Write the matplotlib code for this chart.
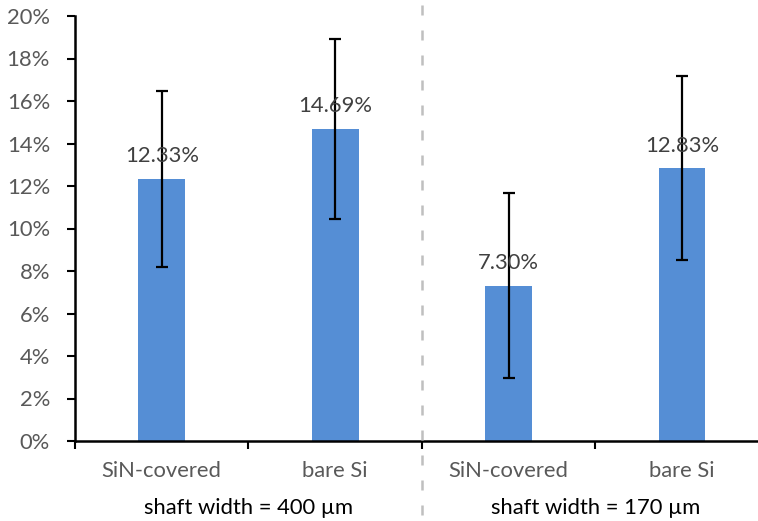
import matplotlib
matplotlib.use("Agg")
import matplotlib.pyplot as plt
from matplotlib.lines import Line2D
from matplotlib.transforms import blended_transform_factory
from matplotlib.ticker import FuncFormatter

# Data
categories = ["SiN-covered", "bare Si", "SiN-covered", "bare Si"]
groups = ["shaft width = 400 µm", "shaft width = 170 µm"]
values = [12.33, 14.69, 7.30, 12.83]          # percent
errors = [4.15, 4.25, 4.35, 4.33]             # percent, symmetric
y_ticks = [0, 2, 4, 6, 8, 10, 12, 14, 16, 18, 20]

plt.rcParams["font.family"] = ["Lato", "DejaVu Sans"]
FS = 15.8

fig = plt.figure(figsize=(7.58, 5.21), dpi=100)
ax = fig.add_axes([75 / 758, 1 - 441 / 521, 693.7 / 758, 425 / 521])

x = list(range(len(categories)))
bar_color = "#558ED5"
ax.bar(x, values, width=0.27, color=bar_color, zorder=2)
ax.errorbar(x, values, yerr=errors, fmt="none", ecolor="black",
            elinewidth=1.6, capsize=4.2, capthick=1.6, zorder=3)

for xi, v in zip(x, values):
    ax.annotate(f"{v:.2f}%", (xi, v), xytext=(0, 9), textcoords="offset points",
                ha="center", va="bottom", fontsize=FS, color="#404040", zorder=4)

ax.set_xlim(-0.5, len(categories) - 0.5)
ax.set_ylim(0, 20)
ax.set_yticks(y_ticks)
ax.yaxis.set_major_formatter(FuncFormatter(lambda v, p: f"{v:.0f}%"))

ax.set_xticks([i + 0.5 for i in range(-1, len(categories))])
ax.set_xticklabels([])
ax.tick_params(axis="x", direction="out", length=6, width=1.5, color="black")
ax.tick_params(axis="y", direction="out", length=6, width=1.5, color="black",
               labelsize=FS, labelcolor="#595959", pad=12)

for side in ("top", "right"):
    ax.spines[side].set_visible(False)
for side in ("left", "bottom"):
    ax.spines[side].set_linewidth(1.8)
    ax.spines[side].set_color("black")

# Category labels and group labels below the axis
tx = blended_transform_factory(ax.transData, fig.transFigure)
for xi, c in zip(x, categories):
    ax.text(xi, 1 - 471 / 521, c, transform=tx, ha="center", va="center",
            fontsize=FS, color="#595959")
for gi, g in enumerate(groups):
    ax.text(2 * gi + 0.5, 1 - 508 / 521, g, transform=tx, ha="center",
            va="center", fontsize=FS, color="black")

# Dashed separator between the two shaft widths
sep = Line2D([1.5, 1.5], [1 - 5 / 521, 0], transform=tx, color="#BFBFBF",
             linewidth=1.8, linestyle=(0, (4, 6)))
fig.add_artist(sep)

fig.savefig("out.png", dpi=100)
